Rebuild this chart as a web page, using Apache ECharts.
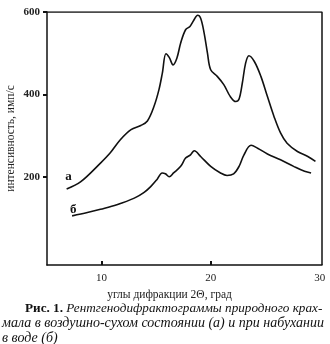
<!DOCTYPE html>
<html><head><meta charset="utf-8">
<script src="https://cdn.jsdelivr.net/npm/echarts@6/dist/echarts.min.js"></script>
<style>html,body{margin:0;padding:0;background:#fff}#c{width:330px;height:344px}</style>
</head><body><div id="c"></div>
<script>
var xTicks = [10, 20, 30];
var yTicks = [200, 400, 600];
var curveA = [[6.8,171],[8.1,189],[9.9,234],[10.8,259],[11.7,290],[12.7,315],[13.6,325],[14.2,336],[14.8,371],[15.26,412],[15.57,452],[15.9,499],[16.2,490],[16.55,472],[16.9,488],[17.25,525],[17.7,557],[18.1,565],[18.45,580],[18.8,592],[19.08,585],[19.4,549],[19.7,501],[20.0,460],[20.6,444],[21.2,424],[21.8,395],[22.3,383],[22.6,389],[22.9,428],[23.2,476],[23.5,494],[24.0,480],[24.6,444],[25.2,395],[25.8,347],[26.4,307],[27.0,282],[27.95,262],[28.9,250],[29.6,238]];
var curveB = [[7.3,106],[8.7,114],[9.9,122],[11.4,133],[13.0,149],[13.9,163],[14.5,177],[15.1,195],[15.55,210],[15.85,208],[16.2,201],[16.6,210],[17.25,226],[17.7,246],[18.15,254],[18.5,264],[19.08,250],[20.0,226],[20.9,210],[21.5,204],[22.1,208],[22.6,226],[23.05,254],[23.7,277],[24.3,270],[25.2,256],[26.4,242],[27.6,226],[28.6,214],[29.2,210]];
var labelA = {name: 'а', coord: [6.97, 201]};
var labelB = {name: 'б', coord: [7.4, 121]};
var xName = 'углы дифракции 2Θ, град';
var yName = 'интенсивность, имп/с';
var caption1a = 'Рис. 1.';
var caption1b = ' Рентгенодифрактограммы природного крах-';
var caption2 = 'мала в воздушно-сухом состоянии (а) и при набухании';
var caption3 = 'в воде (б)';

var font = '"Liberation Serif","DejaVu Serif",serif';
var chart = echarts.init(document.getElementById('c'));
function mk(lbl){
  return {symbol:'circle', symbolSize:0, silent:true, data:[{coord:lbl.coord, value:lbl.name,
    label:{show:true, formatter:lbl.name, color:'#111', fontFamily:font, fontWeight:'bold', fontSize:13, position:'inside'}}]};
}
chart.setOption({
  animation:false,
  backgroundColor:'#fff',
  grid:{left:47, right:8, top:12, bottom:79, containLabel:false, outerBoundsMode:'none'},
  xAxis:{type:'value', min:5, max:30.2,
    name:xName, nameLocation:'middle', nameGap:19,
    nameTextStyle:{fontFamily:font, fontSize:11.5, color:'#222', padding:[0,30,0,0]},
    axisLine:{show:true, onZero:false, lineStyle:{color:'#111', width:1.5}},
    axisTick:{show:true, inside:true, length:4, customValues:[10,20], lineStyle:{color:'#111', width:2}},
    axisLabel:{customValues:xTicks, fontFamily:font, fontSize:11, color:'#222', margin:8},
    splitLine:{show:false}},
  yAxis:{type:'value', min:-13, max:600,
    name:yName, nameLocation:'middle', nameGap:30, nameRotate:90, nameMoveOverlap:false,
    nameTextStyle:{fontFamily:font, fontSize:11.5, color:'#222'},
    axisLine:{show:true, onZero:false, lineStyle:{color:'#111', width:1.5}},
    axisTick:{show:true, inside:false, length:4, customValues:yTicks, lineStyle:{color:'#111', width:2}},
    axisLabel:{customValues:yTicks, fontFamily:font, fontSize:11, fontWeight:'bold', color:'#222', margin:7},
    splitLine:{show:false}},
  series:[
    {type:'line', data:curveA, smooth:0.35, showSymbol:false, lineStyle:{color:'#111', width:1.6}, markPoint:mk(labelA)},
    {type:'line', data:curveB, smooth:0.35, showSymbol:false, lineStyle:{color:'#111', width:1.6}, markPoint:mk(labelB)},
    {type:'line', data:[[5,600],[30.2,600],[30.2,-13]], showSymbol:false, silent:true, lineStyle:{color:'#111', width:1.5}}
  ],
  graphic:[
    {type:'text', left:25, top:302, style:{text:'{b|'+caption1a+'}{i|'+caption1b+'}', rich:{
      b:{fontFamily:font, fontWeight:'bold', fontSize:13.2, fill:'#111'},
      i:{fontFamily:font, fontStyle:'italic', fontSize:13.2, fill:'#111'}}}},
    {type:'text', left:2, top:316.5, style:{text:caption2, fontFamily:font, fontStyle:'italic', fontSize:14, fill:'#111'}},
    {type:'text', left:2, top:331, style:{text:caption3, fontFamily:font, fontStyle:'italic', fontSize:14, fill:'#111'}}
  ]
});
</script></body></html>
